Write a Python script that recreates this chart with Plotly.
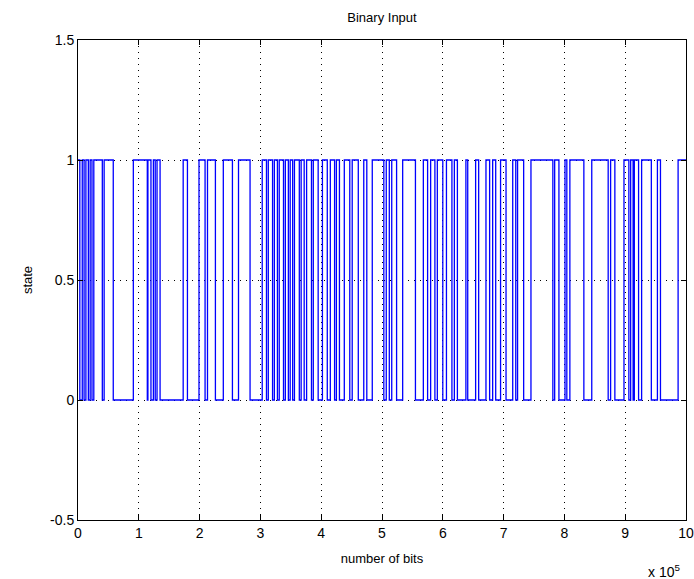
import plotly.graph_objects as go

# High-state intervals (units of 1e5 bits): rise and fall positions
rise = [0.00, 0.07, 0.13, 0.20, 0.26, 0.43, 0.91, 1.15, 1.24, 1.30, 1.73, 1.99, 2.13, 2.39, 2.64,
        3.03, 3.13, 3.23, 3.31, 3.41, 3.49, 3.56, 3.67, 3.76, 3.87, 4.02, 4.15, 4.25, 4.38, 4.51,
        4.70, 4.84, 5.07, 5.16, 5.34, 5.68, 5.80, 5.91, 6.06, 6.19, 6.38, 6.54, 6.71, 6.82, 6.95,
        7.15, 7.23, 7.45, 7.84, 8.01, 8.09, 8.45, 8.76, 8.98, 9.09, 9.15, 9.27, 9.53, 9.87]
fall = [0.03, 0.10, 0.17, 0.23, 0.40, 0.58, 1.14, 1.20, 1.27, 1.35, 1.80, 2.09, 2.26, 2.54, 2.83,
        3.10, 3.20, 3.28, 3.38, 3.46, 3.53, 3.64, 3.72, 3.84, 3.95, 4.10, 4.22, 4.30, 4.47, 4.61,
        4.75, 5.03, 5.12, 5.24, 5.55, 5.75, 5.87, 6.00, 6.15, 6.24, 6.41, 6.59, 6.77, 6.87, 7.04,
        7.20, 7.33, 7.81, 7.91, 8.04, 8.32, 8.72, 8.83, 9.06, 9.13, 9.22, 9.43, 9.58, 10.00]
x_end = 10.0
scale = 1e5

xs, ys = [], []
for r, f in zip(rise, fall):
    xs += [r * scale, f * scale]
    ys += [1, 0]
# signal ends in the high state at the right edge
xs[-1] = x_end * scale
ys[-1] = 1

x_ticks = list(range(0, 11))
y_ticks = [-0.5, 0, 0.5, 1, 1.5]

fig = go.Figure()
fig.add_trace(go.Scatter(x=xs, y=ys, mode="lines", line=dict(color="#0000ff", width=1.3, shape="hv"),
                         hoverinfo="skip", showlegend=False))

font = dict(family="Liberation Sans, Arial, sans-serif", size=14, color="black")
grid = dict(showgrid=True, gridcolor="black", griddash="1px,5px", gridwidth=1, zeroline=False)
fig.update_layout(
    width=694, height=579,
    margin=dict(l=78, r=8, t=40, b=59, autoexpand=False),
    paper_bgcolor="white", plot_bgcolor="white",
    font=font,
    title=dict(text="Binary Input", x=0.5, xanchor="center", xref="paper", y=1, yref="container",
               yanchor="top", pad=dict(t=13), font=dict(size=13)),
    xaxis=dict(range=[0, 10 * scale], tickvals=[t * scale for t in x_ticks],
               ticktext=[str(t) for t in x_ticks], ticks="inside", ticklen=5, tickcolor="black",
               showline=True, linecolor="black", linewidth=1, mirror="allticks", automargin=False,
               title=dict(text="number of bits", font=dict(size=13), standoff=14), **grid),
    yaxis=dict(range=[-0.5, 1.5], tickvals=y_ticks, ticktext=["-0.5", "0", "0.5", "1", "1.5"],
               ticks="inside", ticklen=5, tickcolor="black",
               showline=True, linecolor="black", linewidth=1, mirror="allticks", automargin=False,
               title=dict(text="state", font=dict(size=13), standoff=14), **grid),
    annotations=[dict(text="x 10<sup>5</sup>", xref="paper", yref="paper", x=1.0, y=0, xanchor="right",
                      yanchor="top", yshift=-40, xshift=-4, showarrow=False, font=dict(size=14))],
)

fig.write_html("out.html")
